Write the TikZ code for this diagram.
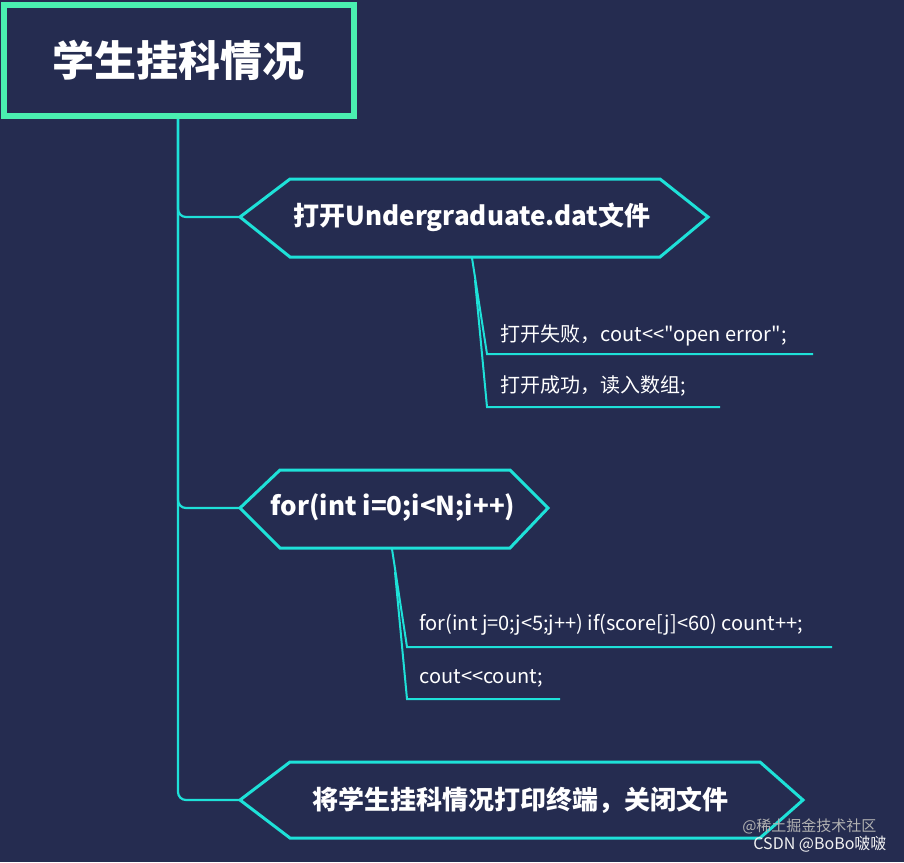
\documentclass[tikz,border=0pt]{standalone}
\usepackage{fontspec}
\setmainfont{Noto Sans CJK SC}[Ligatures=TeXOff]
\usetikzlibrary{positioning}
\definecolor{bgblue}{RGB}{37,44,80}
\definecolor{mintgreen}{RGB}{74,240,176}
\definecolor{linecyan}{RGB}{30,225,216}
\tikzset{
	branch/.style={draw=linecyan, line width=2.2pt, rounded corners=8pt},
	hexbox/.style={draw=linecyan, line width=3pt, fill=bgblue, line join=miter},
	hextext/.style={text=white, font=\bfseries\fontsize{26}{30}\selectfont},
	leaftext/.style={text=white, anchor=west, font=\fontsize{20}{24}\selectfont},
	leafline/.style={draw=linecyan, line width=2pt},
}
\begin{document}
\begin{tikzpicture}[x=1pt,y=-1pt]
\fill[bgblue] (0,0) rectangle (904,862);
\useasboundingbox (0,0) rectangle (904,862);

% title
\draw[mintgreen, line width=6pt, fill=bgblue] (4,5) rectangle (354,116);
\node[text=white, font=\bfseries\fontsize{42}{48}\selectfont] (title) at (178,60) {学生挂科情况};
\coordinate (root) at (178,119);

% trunk
\coordinate (h1) at (240,217);
\coordinate (h2) at (240,508);
\coordinate (h3) at (240,800);
\draw[branch] (root) |- (h1);
\draw[branch] (root) |- (h2);
\draw[branch] (root) |- (h3);

% hexagons
\draw[hexbox] (h1) -- (290,179) -- (660,179) -- (708,217) -- (660,257) -- (290,257) -- cycle;
\node[hextext] (open) at (472,217) {打开Undergraduate.dat文件};
\draw[hexbox] (h2) -- (280,470) -- (510,470) -- (548,508) -- (510,548) -- (280,548) -- cycle;
\node[hextext] (loop) at (393,508) {for(int i=0;i<N;i++)};
\draw[hexbox] (h3) -- (290,762) -- (760,762) -- (803,800) -- (760,838) -- (290,838) -- cycle;
\node[hextext] (close) at (520,800) {将学生挂科情况打印终端，关闭文件};

% leaves of open
\coordinate (o1) at (472,258);
\coordinate (o2) at (487,354);
\coordinate (o3) at (487,407);
\draw[leafline] (o1) -- (o2) -- (813,354);
\draw[leafline] (475,280) -- (o3) -- (720,407);
\node[leaftext] (fail) at (497,335) {打开失败，cout<<"open error";};
\node[leaftext] (succ) at (497,386) {打开成功，读入数组;};

% leaves of loop
\coordinate (l1) at (392,549);
\coordinate (l2) at (407,647);
\coordinate (l3) at (407,699);
\draw[leafline] (l1) -- (l2) -- (832,647);
\draw[leafline] (395,572) -- (l3) -- (560,699);
\node[leaftext] (inner) at (416,625) {for(int j=0;j<5;j++) if(score[j]<60) count++;};
\node[leaftext] (print) at (416,678) {cout<<count;};

% watermark
\node[anchor=east, text=gray!60, font=\fontsize{15}{18}\selectfont] (wm1) at (880,826) {@稀土掘金技术社区};
\node[anchor=east, text=white!90!gray, font=\fontsize{16}{18}\selectfont] (wm2) at (890,844) {CSDN @BoBo啵啵};
\end{tikzpicture}
\end{document}
